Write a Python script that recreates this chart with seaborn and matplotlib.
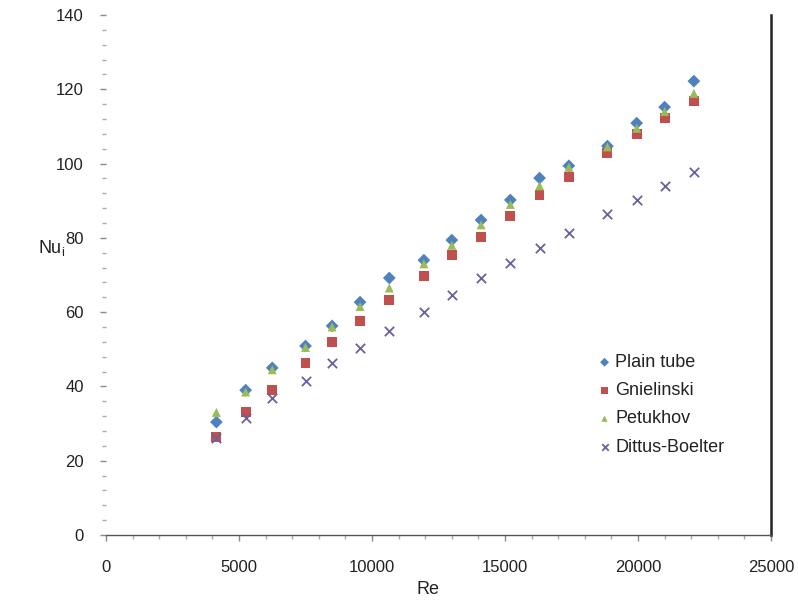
import numpy as np
import pandas as pd
import matplotlib
matplotlib.use("Agg")
import matplotlib.pyplot as plt
from matplotlib.ticker import MultipleLocator
import seaborn as sns

re_values = [4150, 5250, 6250, 7500, 8500, 9550, 10650, 11950, 13000,
             14100, 15200, 16300, 17400, 18850, 19950, 21000, 22100]
nu_plain = [30.4, 39.0, 45.0, 50.9, 56.3, 62.7, 69.2, 74.0, 79.4,
            84.8, 90.2, 96.1, 99.4, 104.7, 110.9, 115.2, 122.2]
nu_gnielinski = [26.4, 33.1, 39.0, 46.3, 52.0, 57.6, 63.3, 69.7, 75.4,
                 80.2, 85.9, 91.5, 96.4, 102.9, 108.0, 112.3, 116.9]
nu_petukhov = [33.0, 38.5, 44.5, 50.5, 56.0, 61.5, 66.5, 73.0, 78.0,
               83.5, 89.0, 94.0, 99.0, 104.5, 109.5, 114.0, 118.9]
nu_dittus = [26.0, 31.5, 36.9, 41.5, 46.3, 50.3, 54.9, 60.0, 64.6,
             69.2, 73.2, 77.3, 81.3, 86.4, 90.2, 94.0, 97.7]
series_names = ["Plain tube", "Gnielinski", "Petukhov", "Dittus-Boelter"]

frames = []
for name, vals in zip(series_names, [nu_plain, nu_gnielinski, nu_petukhov, nu_dittus]):
    frames.append(pd.DataFrame({"Re": re_values, "Nu": vals, "Series": name}))
df = pd.concat(frames, ignore_index=True)

sns.set_style("white")
plt.rcParams["font.family"] = ["Liberation Sans", "DejaVu Sans"]

fig = plt.figure(figsize=(7.98, 6.05), dpi=100)
ax = fig.add_axes([106 / 798, 1 - 535 / 605, (771 - 106) / 798, (535 - 15) / 605])

palette = {"Plain tube": "#4F81BD", "Gnielinski": "#C0504D",
           "Petukhov": "#9BBB59", "Dittus-Boelter": "#6B5F9E"}
markers = {"Plain tube": "D", "Gnielinski": "s", "Petukhov": "^", "Dittus-Boelter": "X"}

for name in series_names:
    sub = df[df["Series"] == name]
    if name == "Dittus-Boelter":
        sns.scatterplot(data=sub, x="Re", y="Nu", ax=ax, color=palette[name],
                        marker="x", s=45, linewidth=1.3, label=name)
    else:
        sns.scatterplot(data=sub, x="Re", y="Nu", ax=ax, color=palette[name],
                        marker=markers[name], s=42 if name != "Gnielinski" else 50,
                        edgecolor="none", label=name)

ax.set_xlim(0, 25000)
ax.set_ylim(0, 140)
ax.xaxis.set_major_locator(MultipleLocator(5000))
ax.xaxis.set_minor_locator(MultipleLocator(1000))
ax.yaxis.set_major_locator(MultipleLocator(20))
ax.yaxis.set_minor_locator(MultipleLocator(4))

ax.spines["top"].set_visible(False)
ax.spines["left"].set_visible(False)
ax.spines["right"].set_visible(True)
ax.spines["right"].set_color("#222222")
ax.spines["right"].set_linewidth(1.8)
ax.spines["bottom"].set_color("#555555")
ax.spines["bottom"].set_linewidth(1.0)

ax.tick_params(axis="both", which="both", bottom=True, left=True, top=False, right=False)
ax.tick_params(axis="both", which="major", direction="out", length=4, width=1,
               color="#888888", labelsize=12, labelcolor="#222222", pad=14)
ax.tick_params(axis="both", which="minor", direction="out", length=3, width=1,
               color="#aaaaaa")
ax.tick_params(axis="y", which="major", pad=12)

ax.set_xlabel("Re", fontsize=13, color="#222222")
ax.set_ylabel("Nu$_\\mathregular{i}$", fontsize=13, color="#222222", rotation=0,
              ha="center", va="center")
ax.xaxis.set_label_coords((428 - 106) / 665, (535 - 590) / 520)
ax.xaxis.label.set_va("center")
ax.yaxis.set_label_coords((52 - 106) / 665, (535 - 248) / 520)

handles, labels = ax.get_legend_handles_labels()
leg = ax.legend(handles, labels, loc="upper left",
                bbox_to_anchor=(600 / 798, 1 - 354 / 605), bbox_transform=fig.transFigure,
                frameon=False, fontsize=13, handlelength=0.5, handletextpad=0.35,
                labelspacing=0.62, borderpad=0, borderaxespad=0, markerscale=0.7)
for t in leg.get_texts():
    t.set_color("#222222")

fig.savefig("out.png", dpi=100)
